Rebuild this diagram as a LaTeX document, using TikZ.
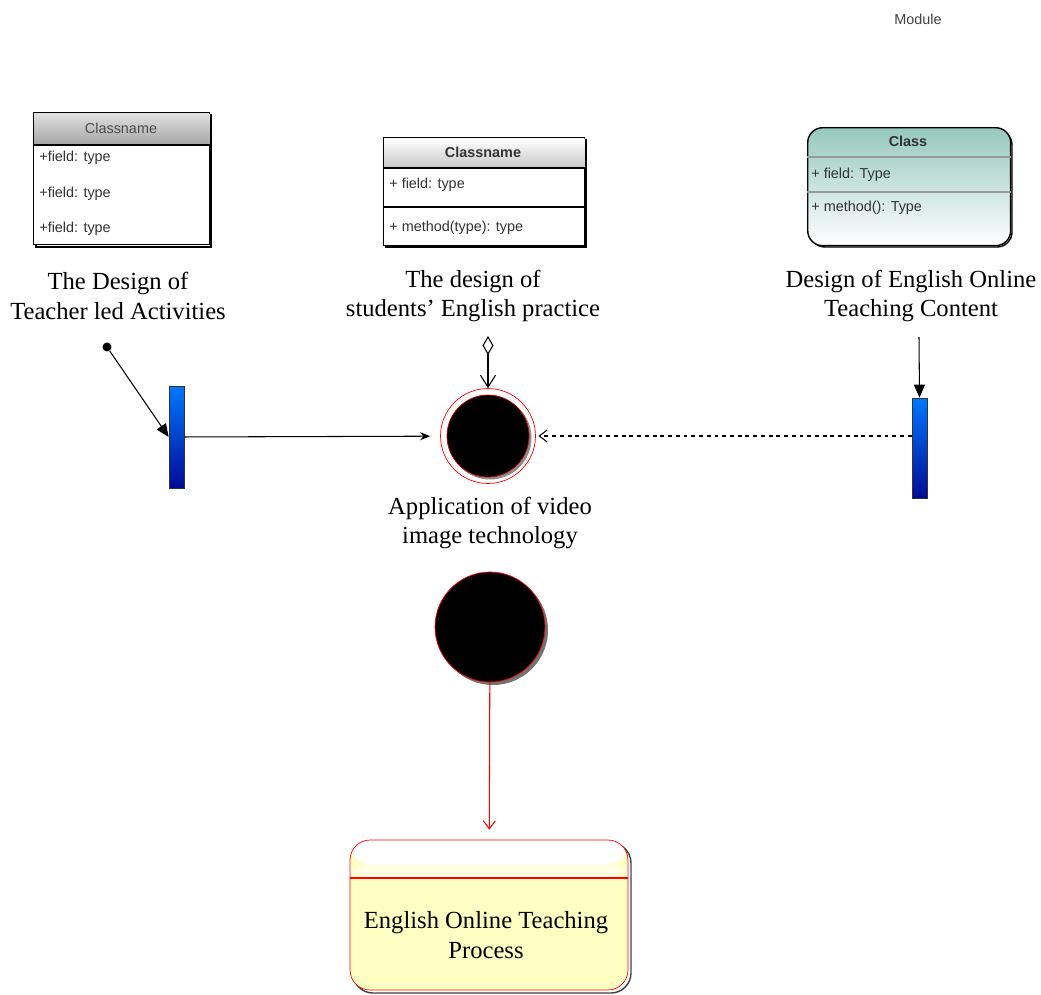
\documentclass[tikz,border=0pt]{standalone}
\usepackage{fontspec}
\setmainfont{Liberation Serif}
\newfontfamily\umlfont{Liberation Sans}
\usetikzlibrary{arrows.meta, positioning, calc}
\definecolor{laneblue}{RGB}{0, 120, 255}
\definecolor{lanedark}{RGB}{0, 10, 150}
\definecolor{classteal}{RGB}{150, 200, 190}
\definecolor{procyellow}{RGB}{255, 255, 196}
\definecolor{headgray}{RGB}{165, 165, 165}

\begin{document}
\begin{tikzpicture}[
                x=0.02cm, y=-0.02cm,
                klass/.style={
                    rectangle,
                    draw=black,
                    thick,
                    fill=white,
                    anchor=north west,
                    inner sep=0pt
                },
                member/.style={
                    font=\umlfont\fontsize{8.2}{10}\selectfont,
                    text=black!80,
                    anchor=west,
                    inner sep=0pt
                },
                caption/.style={
                    font=\fontsize{14}{17}\selectfont,
                    align=center
                },
                lane/.style={
                    rectangle,
                    draw=black!80,
                    top color=laneblue,
                    bottom color=lanedark,
                    minimum width=0.3cm,
                    inner sep=0pt
                }
            ]
                \useasboundingbox (0,0) rectangle (1041,994);
                \node[font=\umlfont\fontsize{8.2}{10}\selectfont, text=black!75] (module) at (918,19) {Module};

                \draw[black, thick] (36,115) rectangle (211,247);
                \node[klass, minimum width=3.52cm, minimum height=2.64cm] (cls1) at (33,112) {};
                \shade[top color=black!12, bottom color=headgray] ($(cls1.north west)+(1,1)$) rectangle ($(cls1.north east)+(-1,33)$);
                \draw[thick] ($(cls1.north west)+(0,33)$) -- ($(cls1.north east)+(0,33)$);
                \node[member, anchor=center, text=black!70] (cls1h) at (121,128) {Classname};
                \node[member] (cls1a) at (39,158) {+field: type};
                \node[member] (cls1b) at (39,194) {+field: type};
                \node[member] (cls1c) at (39,229) {+field: type};

                \draw[black, thick] (386,140) rectangle (586,247);
                \node[klass, minimum width=4.02cm, minimum height=2.16cm] (cls2) at (383,137) {};
                \shade[top color=white, bottom color=black!22] ($(cls2.north west)+(1,1)$) rectangle ($(cls2.north east)+(-1,31)$);
                \draw[thick] ($(cls2.north west)+(0,31)$) -- ($(cls2.north east)+(0,31)$);
                \draw[thick] ($(cls2.north west)+(0,70)$) -- ($(cls2.north east)+(0,70)$);
                \node[member, anchor=center, font=\umlfont\bfseries\fontsize{8.2}{10}\selectfont] (cls2h) at (483,152) {Classname};
                \node[member] (cls2a) at (389,185) {+ field: type};
                \node[member] (cls2b) at (389,228) {+ method(type): type};

                \draw[black, thick, rounded corners=0.3cm] (810,130) rectangle (1012,247);
                \node[klass, rounded corners=0.3cm, top color=classteal, bottom color=white, minimum width=4.06cm, minimum height=2.36cm] (cls3) at (807,127) {};
                \draw[black!40, thick] ($(cls3.north west)+(0,30)$) -- ($(cls3.north east)+(0,30)$);
                \draw[black!40, thick] ($(cls3.north west)+(0,65)$) -- ($(cls3.north east)+(0,65)$);
                \node[member, anchor=center, font=\umlfont\bfseries\fontsize{8.2}{10}\selectfont] (cls3h) at (908,141) {Class};
                \node[member] (cls3a) at (811,175) {+ field: Type};
                \node[member] (cls3b) at (811,208) {+ method(): Type};

                \node[caption] (cap1) at (118,296) {The Design of\\Teacher led Activities};
                \node[caption] (cap2) at (473,296) {The design of\\students' English practice};
                \node[caption] (cap3) at (911,296) {Design of English Online\\Teaching Content};

                \node[circle, fill=black, inner sep=0pt, minimum size=0.18cm] (start) at (107,347) {};
                \node[lane, minimum height=2.04cm] (bar1) at (176.5,437) {};
                \node[lane, minimum height=2cm] (bar3) at (919.5,448) {};

                \node[circle, draw=red, fill=white, minimum size=1.9cm, inner sep=0pt] (act1) at (488,436) {};
                \fill[black!45] (490,438) circle (41.5);
                \node[circle, draw=red!80!black, fill=black, minimum size=1.64cm, inner sep=0pt] (act1in) at (488,436) {};
                \node[caption] (cap4) at (490,523) {Application of video\\image technology};

                \coordinate (dtop) at (488,336);
                \coordinate (ctop) at (919,337);

                \draw[semithick, -{Triangle[length=0.26cm, width=0.22cm]}] (start) -- (bar1.west);
                \draw[semithick, -{Stealth[length=0.2cm, width=0.16cm]}, shorten >=0.2cm] (bar1) -- (act1);
                \draw[semithick, {Diamond[open, length=0.38cm, width=0.22cm]}-{Straight Barb[length=0.24cm, width=0.3cm]}] (dtop) -- (act1.north);
                \draw[semithick, -{Triangle[length=0.26cm, width=0.22cm]}] (ctop) -- (bar3.north);
                \draw[semithick, dash pattern=on 2.2pt off 2.2pt, -{Straight Barb[length=0.16cm, width=0.24cm]}, shorten >=0.05cm] (bar3.west |- act1) -- (act1.east);

                \fill[black!55] (493,630) circle (55);
                \node[circle, draw=red, fill=black, minimum size=2.2cm, inner sep=0pt] (act2) at (490,627) {};

                \draw[black!75, thick, rounded corners=0.4cm] (353,843) rectangle (631,993);
                \node[rectangle, rounded corners=0.4cm, draw=red, fill=procyellow, minimum width=5.56cm, minimum height=3cm, inner sep=0pt,
                      path picture={\fill[white] (path picture bounding box.north west) rectangle ($(path picture bounding box.north east)+(0,24)$);
                                    \fill[white!50!procyellow] ($(path picture bounding box.north west)+(0,24)$) rectangle ($(path picture bounding box.north east)+(0,38)$);}
                     ] (proc) at (489,915) {};
                \draw[draw=red, line width=1pt] ($(proc.north west)+(0,38)$) -- ($(proc.north east)+(0,38)$);
                \node[caption] (proctext) at (486,935) {English Online Teaching\\Process};

                \draw[red, semithick, -{Straight Barb[length=0.16cm, width=0.24cm]}, shorten >=0.2cm] (act2) -- (proc);
            \end{tikzpicture}
\end{document}
